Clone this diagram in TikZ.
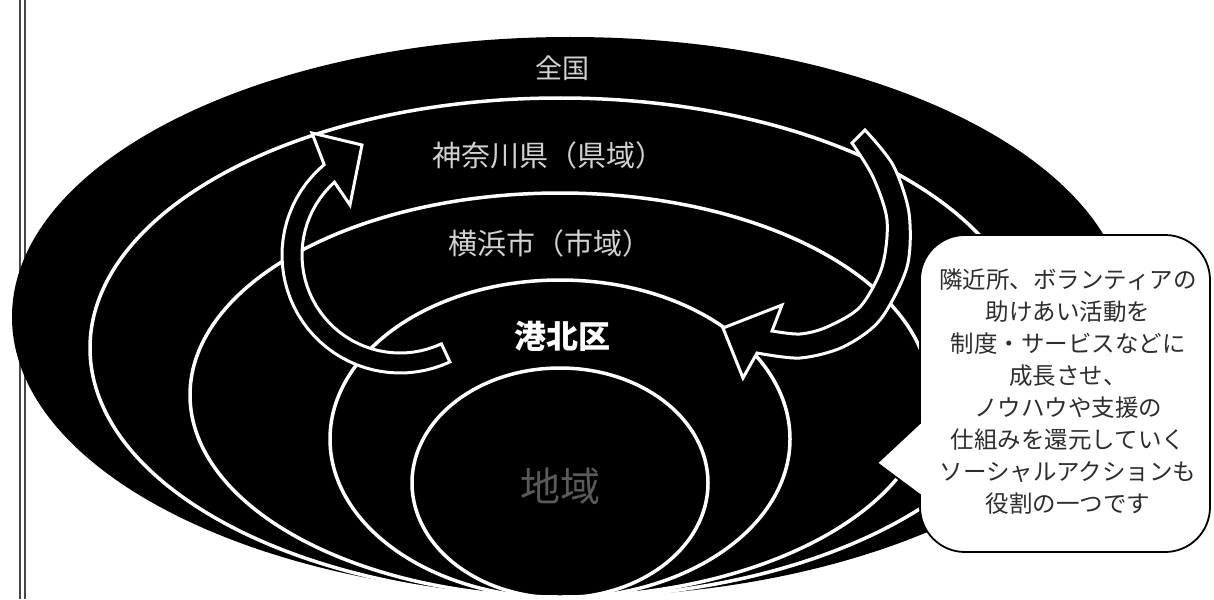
\documentclass[tikz,border=0pt]{standalone}
\usepackage{fontspec}
\newfontfamily\jp{Noto Sans CJK JP}
\definecolor{lblgray}{RGB}{210,210,210}
\definecolor{faint}{RGB}{90,90,90}
\definecolor{txtgray}{RGB}{45,45,45}
\definecolor{frame}{RGB}{70,70,70}
\tikzset{
  ring/.style={draw=white, line width=3.5pt},
  bigarrow/.style={fill=black, draw=white, line width=3pt, line join=miter},
  lbl/.style={text=lblgray, inner sep=0pt},
  callout/.style={fill=white, draw=black, line width=1.8pt},
  frameline/.style={draw=frame, line width=1.3pt}
}
\begin{document}
\begin{tikzpicture}[x=1pt,y=-1pt]
\useasboundingbox (0,0) rectangle (1214,599);
\begin{scope}
\clip (0,0) rectangle (1214,599);
% left frame double line
\draw[frameline] (20,0) -- (20,599);
\draw[frameline] (25,0) -- (25,599);
% nested ellipses
\fill[black] (570,317) ellipse [x radius=558, y radius=280];
\draw[ring] (560,348) ellipse [x radius=470, y radius=250];
\draw[ring] (560,395) ellipse [x radius=370, y radius=202];
\draw[ring] (560,439) ellipse [x radius=230, y radius=159];
\draw[ring] (560,483) ellipse [x radius=148, y radius=115];
\end{scope}
% left curved arrow (up)
\draw[bigarrow] plot[domain=65:230,samples=40] ({400+118*cos(\x)},{255+118*sin(\x)})
  -- (312,133) -- (362,145) -- (350,205)
  -- plot[domain=228:65,samples=40] ({400+98*cos(\x)},{255+98*sin(\x)}) -- cycle;
% right curved arrow (down)
\draw[bigarrow] plot[smooth] coordinates {(865,130) (893,165) (909,213) (907,267) (880,320) (843,347) (800,358) (757,353)}
  -- (743,378) -- (723,328) -- (782,305) -- (772,331)
  -- plot[smooth] coordinates {(772,331) (800,334) (827,327) (860,307) (882,267) (887,220) (873,177) (852,143)} -- cycle;
% labels
\node[lbl, font=\jp\fontsize{27pt}{30pt}\selectfont] (zenkoku) at (562,68) {全国};
\node[lbl, font=\jp\fontsize{29pt}{32pt}\selectfont] (kanagawa) at (548,155) {神奈川県（県域）};
\node[lbl, font=\jp\fontsize{29pt}{32pt}\selectfont] (yokohama) at (550,243) {横浜市（市域）};
\node[inner sep=0pt, text=white, font=\jp\bfseries\fontsize{32pt}{35pt}\selectfont] (kohoku) at (562,336) {港北区};
\node[inner sep=0pt, text=faint, font=\jp\fontsize{40pt}{44pt}\selectfont] (chiiki) at (560,486) {地域};
% callout
\draw[callout] (920,495) -- (920,507) .. controls (920,531.85) and (940.15,552) .. (965,552)
  -- (1165,552) .. controls (1189.85,552) and (1210,531.85) .. (1210,507)
  -- (1210,280) .. controls (1210,255.15) and (1189.85,235) .. (1165,235)
  -- (965,235) .. controls (940.15,235) and (920,255.15) .. (920,280)
  -- (920,423) -- (877,463) -- cycle;
\node[align=center, text=txtgray, inner sep=0pt, font=\jp\fontsize{23.5pt}{32pt}\selectfont] (callouttext) at (1068,392)
  {隣近所、ボランティアの\\助けあい活動を\\制度・サービスなどに\\成長させ、\\ノウハウや支援の\\仕組みを還元していく\\ソーシャルアクションも\\役割の一つです};
\end{tikzpicture}
\end{document}
